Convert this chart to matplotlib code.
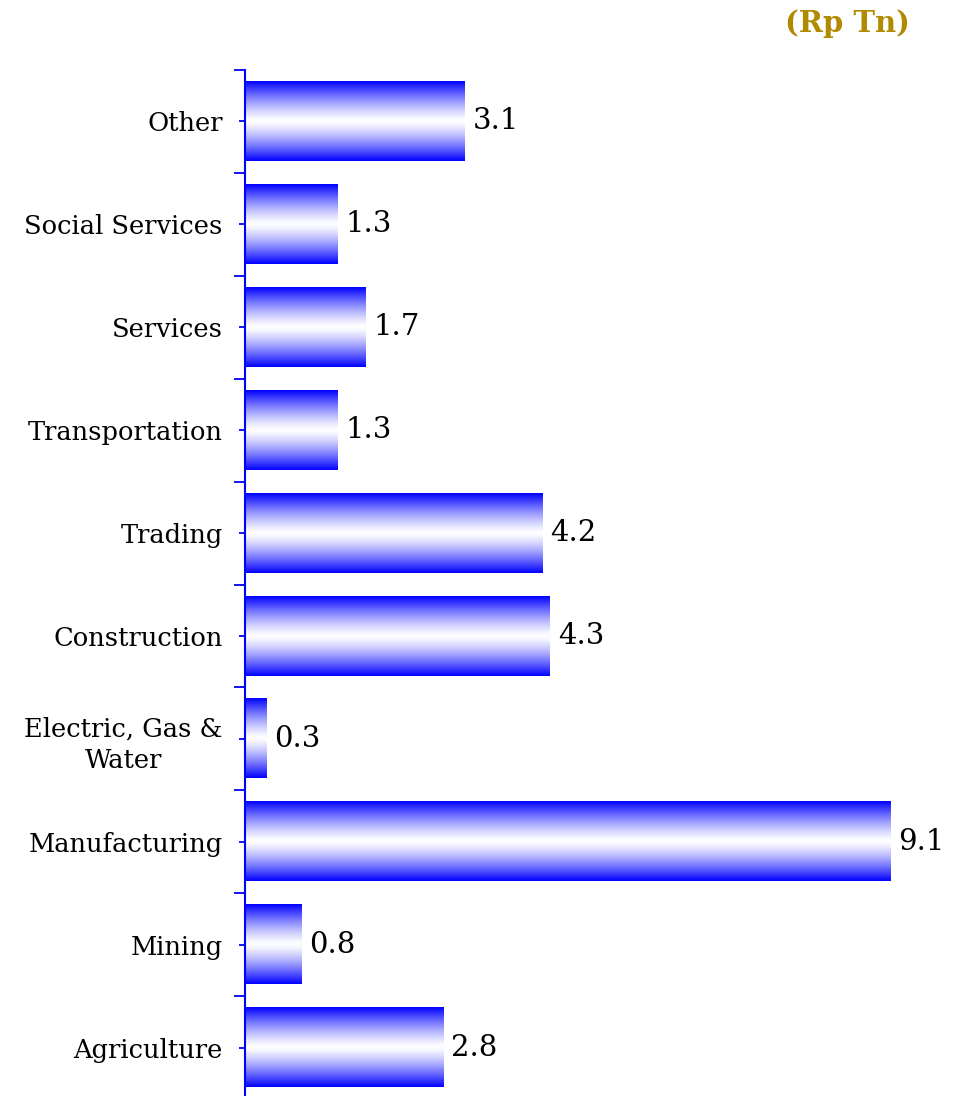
import numpy as np
import matplotlib.pyplot as plt

sectors = ["Agriculture", "Mining", "Manufacturing", "Electric, Gas &\nWater",
           "Construction", "Trading", "Transportation", "Services",
           "Social Services", "Other"]
amounts = [2.8, 0.8, 9.1, 0.3, 4.3, 4.2, 1.3, 1.7, 1.3, 3.1]

blue = "#0000FF"
font = "DejaVu Serif"

fig = plt.figure(figsize=(9.59, 10.96), dpi=100)
ax = fig.add_axes([245 / 959, -3 / 1096, 709 / 959, 1029 / 1096])

pos = np.arange(len(sectors))
bars = ax.barh(pos, amounts, height=0.77, color="none")

# vertical gradient: blue at the edges, white in the middle
t = np.linspace(-1, 1, 512)
w = np.abs(t) ** 1.3
grad = np.ones((512, 1, 3))
grad[:, 0, 0] = 1 - w
grad[:, 0, 1] = 1 - w
for b in bars:
    x0, y0, bw, bh = b.get_x(), b.get_y(), b.get_width(), b.get_height()
    ax.imshow(grad, extent=[x0, x0 + bw, y0, y0 + bh], aspect="auto",
              interpolation="bilinear", zorder=2)

for p, v in zip(pos, amounts):
    ax.text(v + 0.11, p, f"{v:.1f}", va="center", ha="left",
            fontsize=21, family=font, color="black")

ax.set_xlim(0, 10)
ax.set_ylim(-0.5, len(sectors) - 0.5)

for s in ["top", "right", "bottom"]:
    ax.spines[s].set_visible(False)
ax.spines["left"].set_color(blue)
ax.spines["left"].set_linewidth(1.5)
ax.set_xticks([])

ax.set_yticks(pos)
ax.set_yticklabels(sectors, fontsize=18.5, family=font)
for lab in ax.get_yticklabels():
    lab.set_multialignment("center")
    lab.set_linespacing(1.35)
ax.set_yticks(np.arange(-0.5, len(sectors)), minor=True)
ax.tick_params(axis="y", which="major", direction="inout", length=8,
               width=1.3, color=blue, pad=12)
ax.tick_params(axis="y", which="minor", direction="out", length=8,
               width=1.3, color=blue)

fig.text(910 / 959, 1 - 24 / 1096, "(Rp Tn)", ha="right", va="center",
         fontsize=21, fontweight="bold", family=font, color="#B08A00")

fig.savefig("out.png", dpi=100)
